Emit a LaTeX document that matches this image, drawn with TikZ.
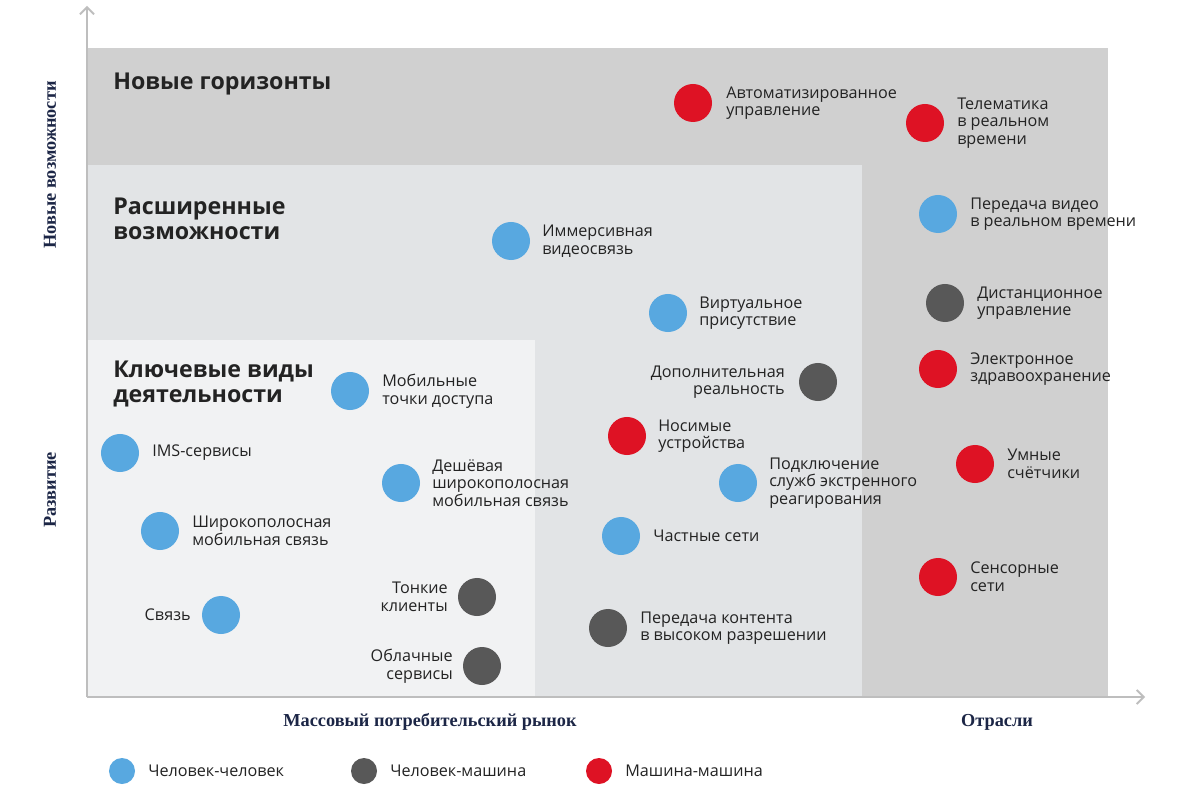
\documentclass[tikz,border=0pt]{standalone}
\usepackage{fontspec}
\setmainfont{Open Sans}
\newfontfamily\axfont{Liberation Serif}
\usetikzlibrary{arrows.meta}
\definecolor{zoneA}{RGB}{208,208,208}
\definecolor{zoneB}{RGB}{226,228,230}
\definecolor{zoneC}{RGB}{241,242,243}
\definecolor{cblue}{RGB}{88,168,224}
\definecolor{cgray}{RGB}{88,88,88}
\definecolor{cred}{RGB}{222,18,36}
\definecolor{navy}{RGB}{28,38,70}
\definecolor{txt}{RGB}{35,35,35}
\definecolor{axc}{RGB}{190,190,190}
\tikzset{
 dot/.style={circle,minimum size=0.95cm,inner sep=0pt},
 hh/.style={dot,fill=cblue}, hm/.style={dot,fill=cgray}, mm/.style={dot,fill=cred},
 lab/.style={align=left,anchor=west,font=\fontsize{11.5}{12.5}\selectfont,text=txt,inner sep=0pt},
 labr/.style={align=right,anchor=east,font=\fontsize{11.5}{12.5}\selectfont,text=txt,inner sep=0pt},
 ttl/.style={align=left,anchor=west,font=\fontsize{16.5}{18}\selectfont\bfseries,text=txt,inner sep=0pt},
 axl/.style={font=\fontsize{13}{14}\selectfont\axfont\bfseries,text=navy,inner sep=0pt}
}
\begin{document}
\begin{tikzpicture}[x=0.025cm,y=-0.025cm]
\useasboundingbox (0,0) rectangle (1200,786);
\fill[white] (0,0) rectangle (1200,786);
\fill[zoneA] (87,48) rectangle (1108,697);
\fill[zoneB] (87,165) rectangle (862,697);
\fill[zoneC] (87,340) rectangle (535,697);
\coordinate (o) at (87,697);
\coordinate (ytop) at (87,6);
\coordinate (xend) at (1145,697);
\draw[axc,line width=1.3pt,-{Straight Barb[length=5pt]}] (o) -- (ytop);
\draw[axc,line width=1.3pt,-{Straight Barb[length=5pt]}] (o) -- (xend);
\node[axl,rotate=90] (ax1) at (50,165) {Новые возможности};
\node[axl,rotate=90] (ax2) at (50,490) {Развитие};
\node[axl] (ax3) at (430,722) {Массовый потребительский рынок};
\node[axl] (ax4) at (997,722) {Отрасли};
\node[ttl] (t1) at (113,84) {Новые горизонты};
\node[ttl] (t2) at (113,219) {Расширенные\\возможности};
\node[ttl] (t3) at (113,384) {Ключевые виды\\деятельности};
% dots
\node[mm] (d1) at (693,103) {}; \node[lab] at (726,103) {Автоматизированное\\управление};
\node[mm] (d2) at (925,123) {}; \node[lab] at (957,123) {Телематика\\в реальном\\времени};
\node[hh] (d3) at (938,214) {}; \node[lab] at (970,214) {Передача видео\\в реальном времени};
\node[hm] (d4) at (945,303) {}; \node[lab] at (977,303) {Дистанционное\\управление};
\node[mm] (d5) at (938,369) {}; \node[lab] at (970,369) {Электронное\\здравоохранение};
\node[mm] (d6) at (975,464) {}; \node[lab] at (1007,464) {Умные\\счётчики};
\node[mm] (d7) at (938,577) {}; \node[lab] at (970,577) {Сенсорные\\сети};
\node[hh] (d8) at (511,241) {}; \node[lab] at (542,241) {Иммерсивная\\видеосвязь};
\node[hh] (d9) at (668,313) {}; \node[lab] at (699,313) {Виртуальное\\присутствие};
\node[hm] (d10) at (818,382) {}; \node[labr] at (785,382) {Дополнительная\\реальность};
\node[mm] (d11) at (627,436) {}; \node[lab] at (658,436) {Носимые\\устройства};
\node[hh] (d12) at (738,483) {}; \node[lab] at (769,483) {Подключение\\служб экстренного\\реагирования};
\node[hh] (d13) at (621,536) {}; \node[lab] at (653,536) {Частные сети};
\node[hm] (d14) at (608,628) {}; \node[lab] at (640,628) {Передача контента\\в высоком разрешении};
\node[hh] (d15) at (350,391) {}; \node[lab] at (382,391) {Мобильные\\точки доступа};
\node[hh] (d16) at (120,453) {}; \node[lab] at (152,453) {IMS-сервисы};
\node[hh] (d17) at (401,483) {}; \node[lab] at (432,483) {Дешёвая\\широкополосная\\мобильная связь};
\node[hh] (d18) at (160,531) {}; \node[lab] at (192,531) {Широкополосная\\мобильная связь};
\node[hh] (d19) at (221,615) {}; \node[labr] at (191,615) {Связь};
\node[hm] (d20) at (477,597) {}; \node[labr] at (448,597) {Тонкие\\клиенты};
\node[hm] (d21) at (482,666) {}; \node[labr] at (453,666) {Облачные\\сервисы};
% legend
\node[hh,minimum size=0.65cm] (l1) at (122,771) {}; \node[lab] at (148,771) {Человек-человек};
\node[hm,minimum size=0.65cm] (l2) at (364,771) {}; \node[lab] at (390,771) {Человек-машина};
\node[mm,minimum size=0.65cm] (l3) at (599,771) {}; \node[lab] at (625,771) {Машина-машина};
\end{tikzpicture}
\end{document}
